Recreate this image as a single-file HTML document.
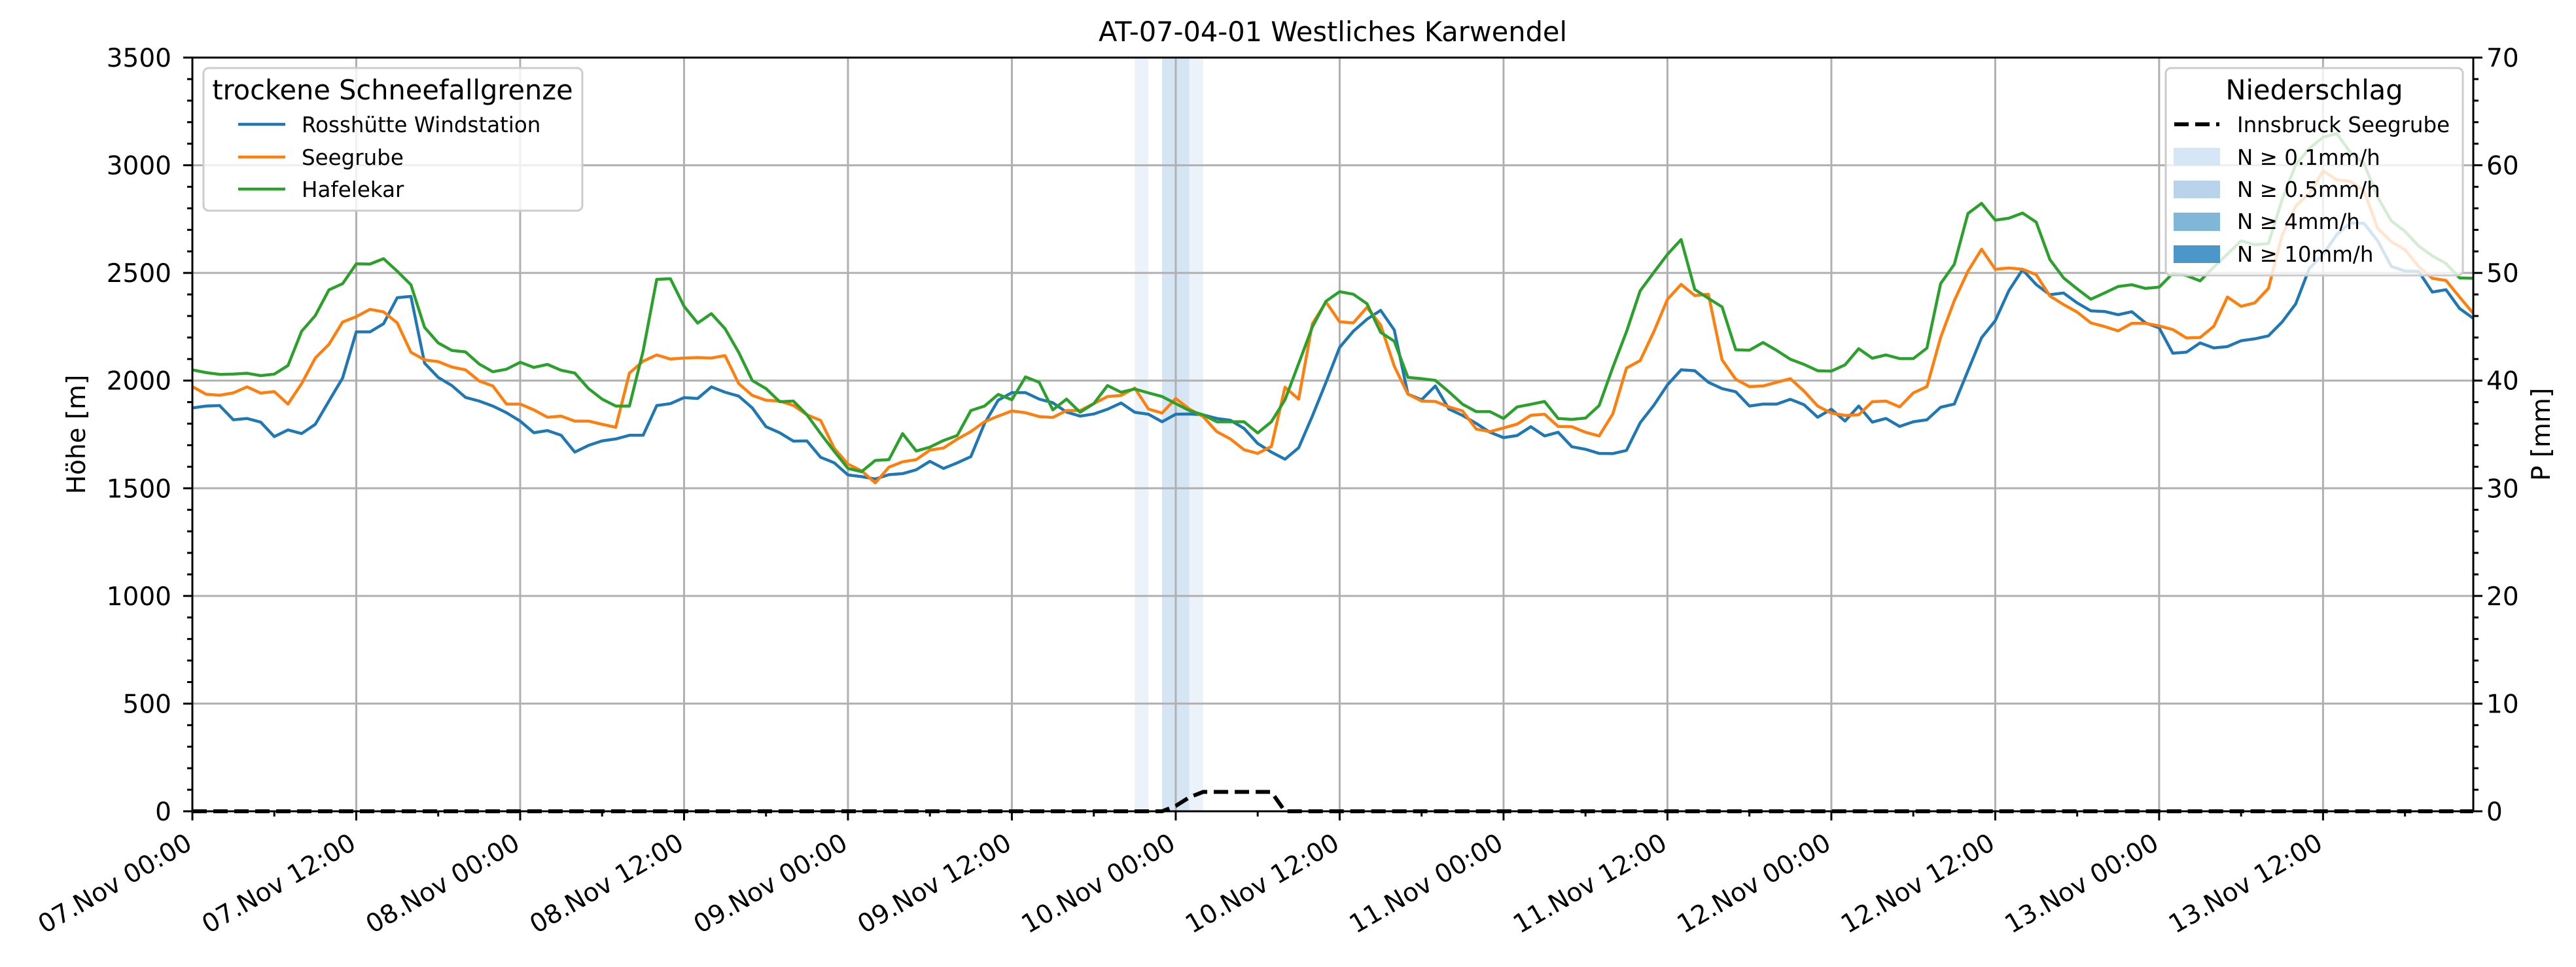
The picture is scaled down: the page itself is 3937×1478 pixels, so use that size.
<!DOCTYPE html>
<html><head><meta charset="utf-8"><style>html,body{margin:0;padding:0;background:#fff}svg{display:block}text{font-family:"DejaVu Sans","Liberation Sans",sans-serif}</style></head>
<body>
<svg id="chart" width="3937" height="1478" viewBox="0 0 3937 1478" xmlns="http://www.w3.org/2000/svg">
<rect x="0" y="0" width="3937" height="1478" fill="#fff"/>
<g id="spans"></g>
<g id="grid"></g>
<g id="series"></g>
<g id="axes"></g>
<text x="2037" y="63" font-size="41.5" text-anchor="middle">AT-07-04-01 Westliches Karwendel</text>
<text transform="translate(130,664) rotate(-90)" font-size="39" text-anchor="middle">Höhe [m]</text>
<text transform="translate(3897,664) rotate(-90)" font-size="39" text-anchor="middle">P [mm]</text>
<g>
<rect x="311" y="104" width="579" height="218" rx="8" fill="rgba(255,255,255,0.8)" stroke="#cccccc" stroke-width="3"/>
<text x="600" y="152" font-size="41.5" text-anchor="middle">trockene Schneefallgrenze</text>
<line x1="364" y1="190" x2="436" y2="190" stroke="#1f77b4" stroke-width="4.5"/>
<text x="461" y="202" font-size="32.5">Rosshütte Windstation</text>
<line x1="364" y1="240" x2="436" y2="240" stroke="#ff7f0e" stroke-width="4.5"/>
<text x="461" y="252" font-size="32.5">Seegrube</text>
<line x1="364" y1="289" x2="436" y2="289" stroke="#2ca02c" stroke-width="4.5"/>
<text x="461" y="301" font-size="32.5">Hafelekar</text>
</g>
<g>
<rect x="3310" y="104" width="454" height="317" rx="8" fill="rgba(255,255,255,0.8)" stroke="#cccccc" stroke-width="3"/>
<text x="3537" y="152" font-size="41.5" text-anchor="middle">Niederschlag</text>
<line x1="3323" y1="190" x2="3392" y2="190" stroke="#000" stroke-width="6" stroke-dasharray="22,10"/>
<text x="3419" y="202" font-size="32.5">Innsbruck Seegrube</text>
<rect x="3322" y="226" width="71" height="27" fill="#d6e6f4"/>
<text x="3419" y="252" font-size="32.5">N ≥ 0.1mm/h</text>
<rect x="3322" y="276" width="71" height="27" fill="#b9d4ea"/>
<text x="3419" y="301" font-size="32.5">N ≥ 0.5mm/h</text>
<rect x="3322" y="325" width="71" height="28" fill="#80b7d9"/>
<text x="3419" y="350" font-size="32.5">N ≥ 4mm/h</text>
<rect x="3322" y="375" width="71" height="27" fill="#4b97c9"/>
<text x="3419" y="400" font-size="32.5">N ≥ 10mm/h</text>
</g>
</svg>
<script>
var rosshuette=[1873,1882,1884,1818,1824,1807,1740,1771,1754,1797,1905,2012,2226,2226,2264,2385,2391,2081,2015,1977,1922,1905,1882,1851,1812,1758,1768,1746,1668,1699,1720,1729,1746,1746,
1884,1893,1921,1917,1971,1946,1928,1873,1786,1758,1719,1720,1644,1618,1562,1554,1543,1563,1568,1586,1625,1592,1618,1647,1801,1909,1944,1944,1914,1897,1854,1835,1845,
1867,1896,1853,1844,1809,1844,1845,1841,1824,1816,1778,1708,1668,1635,1688,1835,1992,2154,2229,2285,2326,2235,1937,1911,1975,1868,1838,1801,1760,1735,1745,1786,1743,1760,
1693,1681,1662,1661,1676,1804,1885,1980,2050,2046,1992,1963,1948,1882,1891,1891,1913,1888,1830,1867,1812,1882,1807,1824,1787,1809,1818,1876,1891,2046,2199,2278,2418,
2515,2446,2399,2407,2361,2324,2321,2306,2320,2268,2245,2127,2132,2175,2152,2158,2185,2194,2208,2272,2356,2521,2585,2678,2732,2730,2649,2530,2509,2507,2411,2422,2335,2289];
var seegrube=[1972,1937,1932,1943,1971,1942,1949,1891,1986,2105,2168,2272,2297,2331,2319,2268,2132,2096,2088,2063,2050,1998,1975,1891,1891,1864,1830,1835,1812,1812,1797,1783,2035,2090,
2119,2100,2105,2107,2105,2116,1986,1931,1909,1905,1885,1841,1815,1685,1612,1581,1525,1598,1623,1633,1677,1687,1728,1763,1809,1835,1859,1851,1833,1829,1861,1861,1893,
1926,1931,1965,1868,1849,1917,1868,1833,1763,1729,1679,1662,1694,1969,1914,2264,2365,2273,2268,2340,2258,2067,1937,1905,1903,1878,1859,1775,1763,1780,1798,1839,1844,1787,
1786,1760,1743,1845,2058,2093,2226,2377,2447,2395,2401,2096,2006,1972,1975,1992,2009,1951,1882,1849,1838,1841,1902,1905,1878,1943,1972,2200,2371,2508,2610,2517,2523,
2517,2492,2393,2353,2318,2268,2251,2231,2266,2266,2254,2237,2198,2200,2252,2388,2345,2361,2428,2674,2811,2869,2973,2933,2925,2881,2707,2645,2608,2530,2475,2465,2388,2312];
var hafelekar=[2050,2037,2029,2030,2034,2023,2030,2070,2229,2302,2421,2450,2542,2541,2566,2508,2445,2247,2175,2140,2133,2077,2041,2053,2085,2061,2075,2048,2035,1963,1914,1882,1882,2137,
2470,2473,2345,2267,2311,2241,2131,2000,1963,1902,1905,1841,1754,1671,1592,1577,1629,1633,1754,1673,1691,1722,1745,1861,1882,1936,1911,2017,1992,1864,1914,1853,1893,
1977,1946,1961,1943,1926,1893,1861,1841,1809,1809,1809,1757,1809,1911,2079,2249,2369,2413,2401,2357,2224,2183,2015,2009,2001,1948,1890,1856,1856,1824,1878,1890,1903,1824,
1820,1826,1884,2061,2227,2417,2502,2586,2655,2423,2382,2342,2143,2141,2177,2140,2099,2075,2046,2044,2073,2148,2104,2119,2102,2102,2151,2450,2540,2776,2823,2745,2754,
2778,2736,2562,2477,2426,2378,2407,2437,2445,2428,2434,2498,2488,2463,2527,2588,2649,2631,2637,2840,3002,3078,3130,3147,3060,3008,2852,2741,2693,2625,2579,2544,2477,2475];
var precipHours=[69,71,72,73];
var precipRates=[0.2,0.6,0.6,0.2];
var cumHours=[0,70,71,72,73,74,75,76,77,78,79,80,167];
var cumValues=[0,0,0,0.5,1.3,1.8,1.8,1.8,1.8,1.8,1.8,0,0];
var yTicks=[0,500,1000,1500,2000,2500,3000,3500];
var y2Ticks=[0,10,20,30,40,50,60,70];
var xTickLabels=["07.Nov 00:00","07.Nov 12:00","08.Nov 00:00","08.Nov 12:00","09.Nov 00:00","09.Nov 12:00","10.Nov 00:00","10.Nov 12:00","11.Nov 00:00","11.Nov 12:00","12.Nov 00:00","12.Nov 12:00","13.Nov 00:00","13.Nov 12:00"];

var NS="http://www.w3.org/2000/svg";
var L=294,R=3780,T=88,B=1240,HMAX=167;
function xs(h){return L+h*(R-L)/HMAX;}
function ys(v){return B-v*(B-T)/3500;}
function y2s(v){return B-v*(B-T)/70;}
function mk(tag,attrs,parent){var e=document.createElementNS(NS,tag);for(var k in attrs)e.setAttribute(k,attrs[k]);parent.appendChild(e);return e;}
var spans=document.getElementById('spans'),grid=document.getElementById('grid'),series=document.getElementById('series'),axes=document.getElementById('axes');
function spanColor(r){return r>=10?'#4b97c9':r>=4?'#80b7d9':r>=0.5?'#d5e5f3':'#ecf2fa';}
for(var i=0;i<precipHours.length;i++){
  var s=mk('rect',{x:xs(precipHours[i]),y:T,width:xs(precipHours[i]+1)-xs(precipHours[i]),height:B-T,fill:spanColor(precipRates[i])},spans);
  
  
}
for(var i=0;i<xTickLabels.length;i++){
  var gx=xs(i*12);
  var g=mk('line',{x1:gx,y1:T,x2:gx,y2:B,stroke:'#b0b0b0','stroke-width':3},grid);
  
  
}
for(var i=0;i<yTicks.length;i++){
  var gy=ys(yTicks[i]);
  var g=mk('line',{x1:L,y1:gy,x2:R,y2:gy,stroke:'#b0b0b0','stroke-width':3},grid);
  
  
}
function line(data,color,name){
  var d='';for(var i=0;i<data.length;i++){d+=(i?'L':'M')+xs(i).toFixed(1)+','+ys(data[i]).toFixed(1);}
  var p=mk('path',{d:d,fill:'none',stroke:color,'stroke-width':4.5,'stroke-linejoin':'round'},series);
  
  
}
line(rosshuette,'#1f77b4','line-rosshuette');
line(seegrube,'#ff7f0e','line-seegrube');
line(hafelekar,'#2ca02c','line-hafelekar');
var d='';for(var i=0;i<cumHours.length;i++){d+=(i?'L':'M')+xs(cumHours[i]).toFixed(1)+','+y2s(cumValues[i]).toFixed(1);}
var cp=mk('path',{d:d,fill:'none',stroke:'#000','stroke-width':6,'stroke-dasharray':'22,10'},series);


var sp=mk('rect',{x:L,y:T,width:R-L,height:B-T,fill:'none',stroke:'#000','stroke-width':3},axes);


for(var v=0;v<=3500;v+=100){
  var yy=ys(v),major=(v%500===0);
  var t=mk('line',{x1:L-(major?14:8),y1:yy,x2:L,y2:yy,stroke:'#000','stroke-width':3},axes);
  
  
}
for(var i=0;i<yTicks.length;i++){
  var tl=mk('text',{x:262,y:ys(yTicks[i])+14,'font-size':39,'text-anchor':'end'},axes);
  tl.textContent=yTicks[i];
  
  
}
for(var v=0;v<=70;v+=2){
  var yy=y2s(v),major=(v%10===0);
  var t=mk('line',{x1:R,y1:yy,x2:R+(major?14:8),y2:yy,stroke:'#000','stroke-width':3},axes);
  
  
}
for(var i=0;i<y2Ticks.length;i++){
  var tl=mk('text',{x:3800,y:y2s(y2Ticks[i])+14,'font-size':39},axes);
  tl.textContent=y2Ticks[i];
  
  
}
for(var h=0;h<=HMAX;h+=6){
  var xx=xs(h),major=(h%12===0);
  var t=mk('line',{x1:xx,y1:B,x2:xx,y2:B+(major?14:8),stroke:'#000','stroke-width':3},axes);
  
  
}
for(var i=0;i<xTickLabels.length;i++){
  var xx=xs(i*12);
  var tl=mk('text',{transform:'translate('+(xx+2)+',1296) rotate(-30)','font-size':39,'text-anchor':'end'},axes);
  tl.textContent=xTickLabels[i];
  
  
}
</script>
</body></html>
